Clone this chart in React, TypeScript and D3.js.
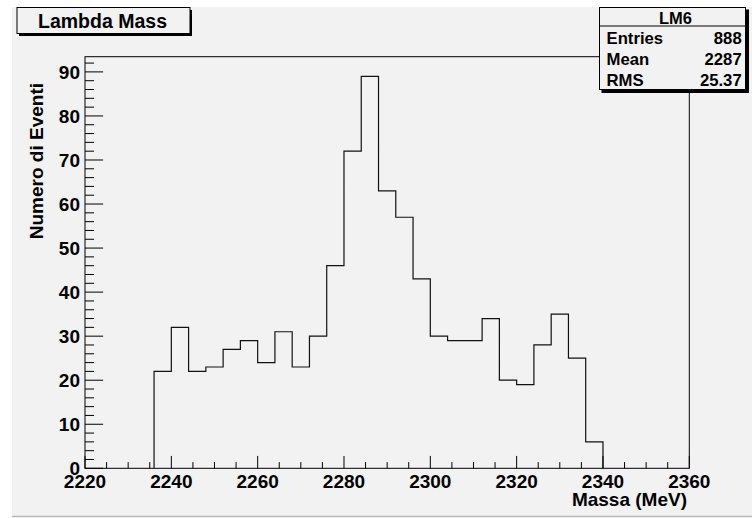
import React from "react";
import * as d3 from "d3";

// Histogram "LM6": Lambda mass distribution, 4 MeV bins from 2236 to 2340 MeV
const binLow = 2236;
const binWidth = 4;
const counts = [22, 32, 22, 23, 27, 29, 24, 31, 23, 30, 46, 72, 89, 63, 57, 43, 30, 29, 29, 34, 20, 19, 28, 35, 25, 6];

const xTicksMajor = [2220, 2240, 2260, 2280, 2300, 2320, 2340, 2360];
const yTicksMajor = [0, 10, 20, 30, 40, 50, 60, 70, 80, 90];

const statsTitle = "LM6";
const statsLabels = ["Entries", "Mean", "RMS"];
const statsValues = ["888", "2287", "25.37"];

const W = 752;
const H = 518;
const FONT = "'Liberation Sans', Arial, Helvetica, sans-serif";

export default function App() {
  const frame = { left: 85, right: 689.3, top: 56.7, bottom: 468.3 };
  const yMax = d3.max(counts)! * 1.05;

  const x = d3.scaleLinear().domain([2220, 2360]).range([frame.left, frame.right]);
  const y = d3.scaleLinear().domain([0, yMax]).range([frame.bottom, frame.top]);

  // outline of the histogram as a step line
  const pts: [number, number][] = [[binLow, 0]];
  counts.forEach((c, i) => {
    const lo = binLow + i * binWidth;
    pts.push([lo, c], [lo + binWidth, c]);
  });
  pts.push([binLow + counts.length * binWidth, 0]);
  const line = d3.line<[number, number]>().x((d) => x(d[0])).y((d) => y(d[1]));

  const xMinor = d3.range(2220, 2360.001, 5);
  const yMinor = d3.range(0, yMax, 2);
  const xTickLen = 0.03 * (frame.bottom - frame.top);
  const yTickLen = 0.03 * (frame.right - frame.left);

  const sb = { left: 599.5, right: 745.5, top: 7.5, bottom: 89.5, header: 26 };

  return (
    <svg
      width={W}
      height={H}
      style={{ position: "absolute", left: 0, top: 0, background: "#ffffff" }}
      fontFamily={FONT}
      fontWeight="bold"
    >
      {/* canvas */}
      <rect x={12} y={7} width={W - 12} height={H - 8} fill="#f2f2f2" />
      <line x1={12} x2={W} y1={516.5} y2={516.5} stroke="#b8b8b8" strokeWidth={1.5} />

      {/* frame */}
      <rect
        x={frame.left}
        y={frame.top}
        width={frame.right - frame.left}
        height={frame.bottom - frame.top}
        fill="none"
        stroke="#000"
        strokeWidth={1}
      />

      {/* histogram */}
      <path d={line(pts) ?? ""} fill="none" stroke="#111" strokeWidth={1.2} />

      {/* x ticks */}
      {xMinor.map((v) => {
        const major = xTicksMajor.includes(v);
        return (
          <line
            key={"xt" + v}
            x1={x(v)}
            x2={x(v)}
            y1={frame.bottom}
            y2={frame.bottom - (major ? xTickLen : xTickLen / 2)}
            stroke="#000"
            strokeWidth={1}
          />
        );
      })}
      {xTicksMajor.map((v) => (
        <text key={"xl" + v} x={x(v)} y={488} textAnchor="middle" fontSize={19} fill="#000">
          {v}
        </text>
      ))}

      {/* y ticks */}
      {yMinor.map((v) => {
        const major = v % 10 === 0;
        return (
          <line
            key={"yt" + v}
            x1={frame.left}
            x2={frame.left + (major ? yTickLen : yTickLen / 2)}
            y1={y(v)}
            y2={y(v)}
            stroke="#000"
            strokeWidth={1}
          />
        );
      })}
      {yTicksMajor.map((v) => (
        <text key={"yl" + v} x={80} y={y(v) + 6.8} textAnchor="end" fontSize={19} fill="#000">
          {v}
        </text>
      ))}

      {/* axis titles */}
      <text x={687} y={505.5} textAnchor="end" fontSize={19} fill="#000">
        Massa (MeV)
      </text>
      <text
        transform={`translate(42.8, 83) rotate(-90)`}
        textAnchor="end"
        fontSize={19}
        fill="#000"
      >
        Numero di Eventi
      </text>

      {/* title box */}
      <rect x={19} y={10} width={173} height={26} fill="#000" />
      <rect x={17} y={7.5} width={173} height={26} fill="#f2f2f2" stroke="#000" strokeWidth={1} />
      <text x={102.5} y={27.5} textAnchor="middle" fontSize={19.5} fill="#000">
        Lambda Mass
      </text>

      {/* statistics box */}
      <rect
        x={sb.left + 2}
        y={sb.top + 2}
        width={sb.right - sb.left + 1.5}
        height={sb.bottom - sb.top + 1.5}
        fill="#000"
      />
      <rect
        x={sb.left}
        y={sb.top}
        width={sb.right - sb.left}
        height={sb.bottom - sb.top}
        fill="#f2f2f2"
        stroke="#000"
        strokeWidth={1}
      />
      <line x1={sb.left} x2={sb.right} y1={sb.header} y2={sb.header} stroke="#000" strokeWidth={1} />
      <text x={(sb.left + sb.right) / 2 + 3} y={24} textAnchor="middle" fontSize={16.5} fill="#000">
        {statsTitle}
      </text>
      {statsLabels.map((lab, i) => (
        <g key={lab}>
          <text x={606.5} y={44.3 + i * 20.9} fontSize={16.7} fill="#000">
            {lab}
          </text>
          <text x={741.7} y={44.3 + i * 20.9} textAnchor="end" fontSize={16.7} fill="#000">
            {statsValues[i]}
          </text>
        </g>
      ))}
    </svg>
  );
}
